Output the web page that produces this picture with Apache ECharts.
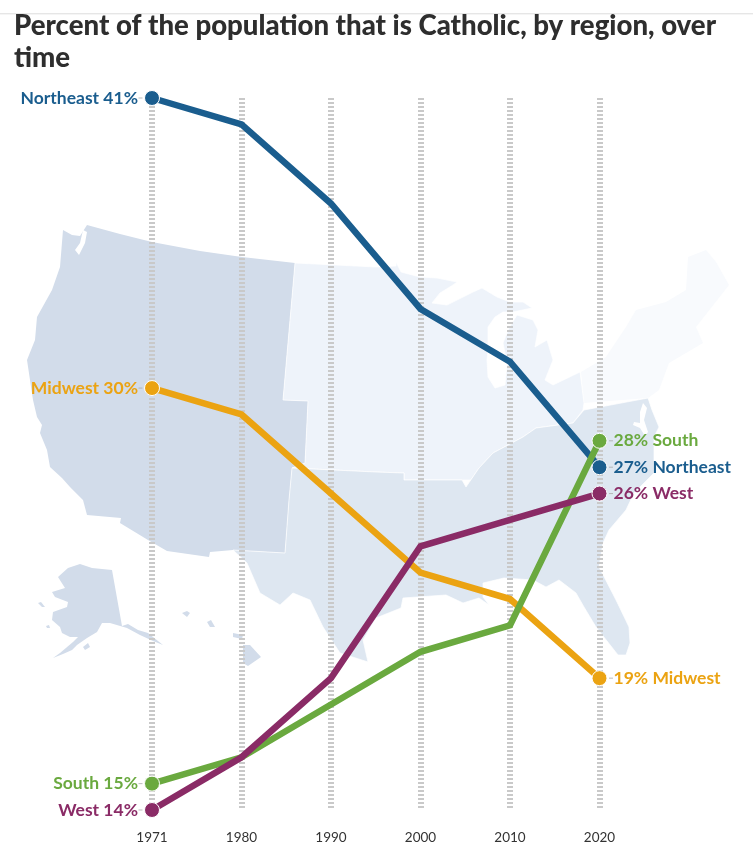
<!DOCTYPE html>
<html>
<head>
<meta charset="utf-8">
<style>html,body{margin:0;padding:0;background:#fff}#chart{width:753px;height:848px}</style>
<script src="https://cdn.jsdelivr.net/npm/echarts@6/dist/echarts.min.js"></script>
</head>
<body>
<div id="chart"></div>
<script>
// Survey years and the share of each region's population that is Catholic
const years = ['1971', '1980', '1990', '2000', '2010', '2020'];
const northeast = [41, 40, 37, 33, 31, 27];
const midwest = [30, 29, 26, 23, 22, 19];
const south = [15, 16, 18, 20, 21, 28];
const west = [14, 16, 19, 24, 25, 26];

const titleText = 'Percent of the population that is Catholic, by region, over\ntime';
const labelFont = 'Lato';

// Backdrop map outlines, in page pixels
const westShape = [[87,225],[120,234],[152,242],[200,251],[242,257],[295,263],[283,400],[308,401],[305,463],[292,468],[289,500],[285,553],[233,550],[210,552],[209,557],[167,551],[148,540],[120,523],[121,518],[87,515],[83,500],[70,487],[62,478],[50,467],[47,450],[40,433],[42,425],[37,417],[33,400],[27,360],[35,340],[37,317],[52,290],[60,267],[63,230],[72,235],[80,236]];
const pugetSound = [[83,230],[87,232],[85,243],[79,255],[75,250],[80,243]];
const midwestShape = [[295,263],[376,267],[396,266],[396,262],[401,272],[420,277],[437,278],[457,282],[453,285],[440,293],[432,303],[447,305],[463,297],[473,292],[482,288],[497,297],[510,302],[523,302],[532,308],[513,312],[503,312],[495,317],[488,327],[488,350],[487,360],[488,377],[495,388],[505,385],[507,363],[503,343],[509,328],[517,315],[533,320],[538,330],[535,347],[547,340],[553,360],[545,380],[553,385],[580,372],[584,403],[583,410],[573,423],[536,428],[523,437],[493,453],[479,468],[466,487],[476,480],[404,480],[404,473],[376,472],[292,468],[305,463],[308,401],[283,400]];
const southShape = [[292,468],[376,472],[404,473],[404,480],[462,480],[466,487],[479,468],[493,453],[523,437],[536,428],[573,423],[584,410],[648,398],[652,410],[659,427],[654,437],[654,473],[634,493],[626,510],[609,530],[603,543],[599,567],[616,600],[629,627],[630,643],[626,655],[618,655],[596,627],[584,607],[576,593],[559,580],[546,587],[533,580],[504,578],[483,583],[483,597],[489,605],[479,598],[463,603],[446,595],[403,598],[401,608],[376,618],[363,640],[368,662],[340,653],[323,627],[310,600],[293,593],[280,605],[260,593],[247,563],[233,550],[285,553],[289,500]];
const chesapeake = [[643,403],[647,408],[644,420],[648,432],[645,436],[640,428],[633,425],[634,422],[640,423],[640,412]];
const northeastShape = [[581,372],[606,357],[626,327],[636,310],[666,302],[686,290],[688,257],[706,250],[716,262],[729,285],[696,327],[703,343],[669,363],[659,390],[648,398],[584,403]];
const alaskaShape = [[58,577],[68,568],[80,564],[92,568],[112,570],[122,626],[128,624],[138,630],[148,633],[163,645],[153,641],[140,635],[127,628],[110,623],[102,623],[97,632],[87,638],[77,645],[72,650],[63,654],[53,658],[60,653],[73,642],[78,637],[70,637],[62,633],[60,627],[52,620],[53,612],[67,607],[68,602],[55,597],[52,592],[65,588]];
const kodiakShape = [[83,647],[88,643],[90,647],[85,650]];
const stLawrenceShape = [[38,603],[41,602],[45,607],[42,607]];
const nunivakShape = [[46,626],[49,625],[50,628],[47,628]];
const hawaiiShape = [[243,645],[250,645],[261,657],[248,666],[243,663]];
const mauiShape = [[233,633],[243,635],[242,639],[233,637]];
const oahuShape = [[207,622],[211,620],[215,627],[210,627]];
const kauaiShape = [[182,613],[187,611],[190,613],[187,617]];

const westFill = '#d2dcea';
const midwestFill = '#eef3fa';
const southFill = '#dee7f1';
const northeastFill = '#f8fafd';

function land(points, fill, stroke) {
  return {
    type: 'polygon', z: -1, silent: true,
    shape: { points: points },
    style: { fill: fill, stroke: stroke || null, lineWidth: stroke ? 0.7 : 0 }
  };
}

// One line per region, with a dot and a text label at each end only
function regionLine(name, values, color) {
  const last = values.length - 1;
  return {
    name: name,
    type: 'line',
    data: values.map(function (v, i) {
      if (i !== 0 && i !== last) return { value: v, symbol: 'none' };
      const atStart = i === 0;
      return {
        value: v,
        symbol: 'circle',
        symbolSize: 15,
        itemStyle: { color: color, borderColor: '#fff', borderWidth: 1 },
        label: {
          show: true,
          position: atStart ? 'left' : 'right',
          distance: 6,
          color: color,
          fontFamily: labelFont,
          fontWeight: 700,
          fontSize: 17.5,
          formatter: atStart ? name + ' ' + v + '%' : v + '% ' + name
        }
      };
    }),
    showSymbol: true,
    showAllSymbol: true,
    lineStyle: { color: color, width: 6.5, cap: 'butt', join: 'miter' },
    emphasis: { disabled: true },
    animation: false
  };
}

// Short grey leader between a label and its dot
function leader(values, side) {
  const idx = side < 0 ? 0 : values.length - 1;
  return {
    type: 'scatter',
    symbol: 'rect',
    symbolSize: [4, 1],
    symbolOffset: [side * 11.5, 0],
    itemStyle: { color: '#aaaaaa' },
    data: [[years[idx], values[idx]]],
    silent: true,
    animation: false
  };
}

const regions = [
  ['Northeast', northeast, '#1a5d8e'],
  ['Midwest', midwest, '#eba312'],
  ['South', south, '#6aa93f'],
  ['West', west, '#8a2b66']
];

const chart = echarts.init(document.getElementById('chart'), null, { renderer: 'canvas' });
chart.setOption({
  backgroundColor: '#fff',
  animation: false,
  title: {
    text: titleText,
    left: 9,
    top: 5,
    textStyle: { fontFamily: labelFont, fontWeight: 900, fontSize: 27.6, lineHeight: 32, color: '#2e2e2e' }
  },
  grid: { left: 152, right: 153.5, top: 98, bottom: 38 },
  xAxis: {
    type: 'category',
    data: years,
    boundaryGap: false,
    axisLine: { show: false },
    axisTick: { show: false },
    axisLabel: { margin: 21, fontFamily: 'Lato', fontSize: 13.5, color: '#333' },
    splitLine: { show: true, lineStyle: { color: '#c9c9c9', width: 6, type: [2, 2] } }
  },
  yAxis: { type: 'value', min: 14, max: 41, show: false, splitLine: { show: false } },
  graphic: [
    { type: 'rect', z: -2, silent: true, shape: { x: 0, y: 13, width: 753, height: 1 }, style: { fill: '#e6e6e6' } },
    { type: 'rect', z: -2, silent: true, shape: { x: 0, y: 14, width: 753, height: 1 }, style: { fill: '#f5f5f5' } },
    land(westShape, westFill),
    land(pugetSound, '#ffffff'),
    land(alaskaShape, westFill),
    land(kodiakShape, westFill),
    land(stLawrenceShape, westFill),
    land(nunivakShape, westFill),
    land(hawaiiShape, westFill),
    land(mauiShape, westFill),
    land(oahuShape, westFill),
    land(kauaiShape, westFill),
    land(northeastShape, northeastFill),
    land(midwestShape, midwestFill, '#ffffff'),
    land(southShape, southFill, '#ffffff'),
    land(chesapeake, '#ffffff')
  ],
  series: regions.map(function (r) { return regionLine(r[0], r[1], r[2]); })
    .concat(regions.map(function (r) { return leader(r[1], -1); }))
    .concat(regions.map(function (r) { return leader(r[1], 1); }))
});
</script>
</body>
</html>
